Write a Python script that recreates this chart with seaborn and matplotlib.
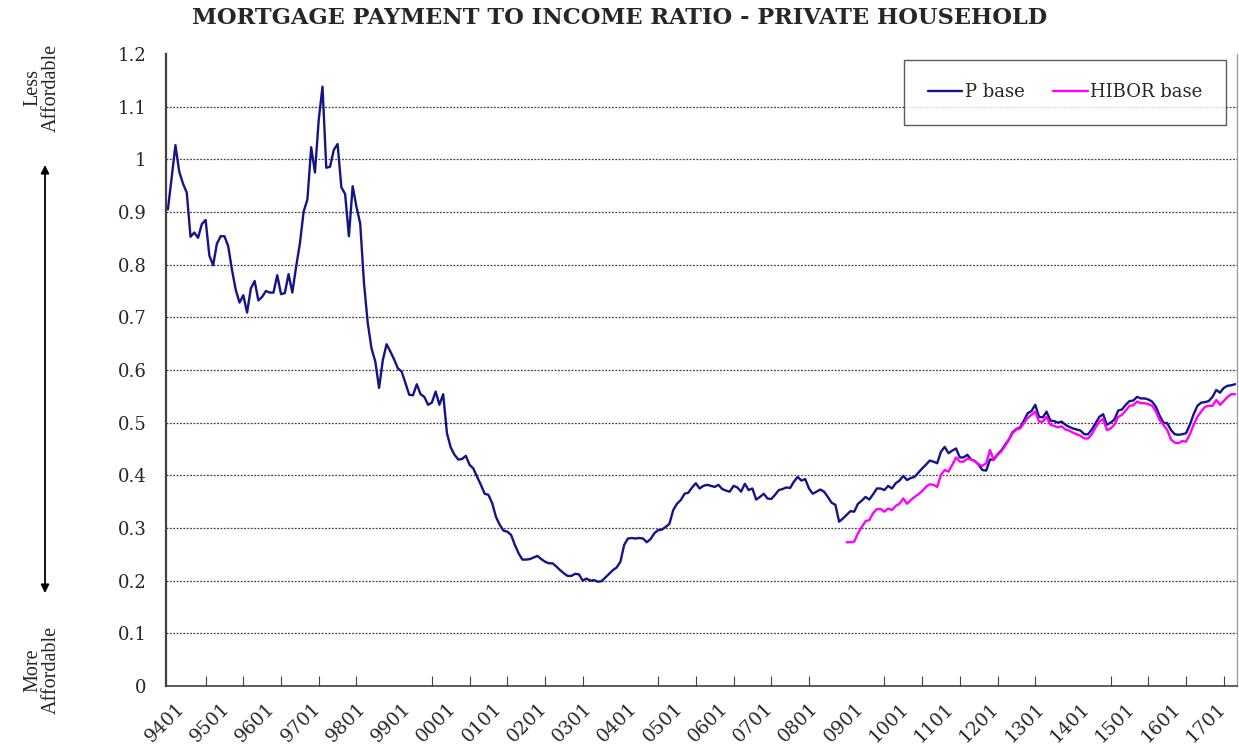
import numpy as np
import pandas as pd
import matplotlib
matplotlib.use("Agg")
import matplotlib.pyplot as plt
from matplotlib.transforms import ScaledTranslation
import seaborn as sns

# Year labels on the category axis (one per January, YYMM)
year_labels = ["9401", "9501", "9601", "9701", "9801", "9901", "0001", "0101",
               "0201", "0301", "0401", "0501", "0601", "0701", "0801", "0901",
               "1001", "1101", "1201", "1301", "1401", "1501", "1601", "1701"]

# Monthly mortgage payment to income ratio, prime-rate based (Jan 1994 - Aug 2017)
p_base = [
    0.905, 0.965, 1.027, 0.977, 0.954, 0.937, 0.853, 0.861, 0.851, 0.877, 0.885, 0.817,
    0.799, 0.840, 0.854, 0.854, 0.835, 0.790, 0.752, 0.728, 0.742, 0.709, 0.755, 0.769,
    0.732, 0.739, 0.750, 0.747, 0.747, 0.780, 0.744, 0.746, 0.782, 0.747, 0.796, 0.840,
    0.901, 0.924, 1.023, 0.975, 1.075, 1.138, 0.984, 0.986, 1.018, 1.029, 0.947, 0.934,
    0.854, 0.949, 0.910, 0.878, 0.765, 0.689, 0.641, 0.616, 0.566, 0.619, 0.649, 0.635,
    0.620, 0.603, 0.597, 0.575, 0.553, 0.552, 0.573, 0.554, 0.549, 0.534, 0.538, 0.559,
    0.534, 0.554, 0.480, 0.453, 0.439, 0.430, 0.431, 0.437, 0.420, 0.413, 0.397, 0.382,
    0.365, 0.363, 0.347, 0.321, 0.306, 0.295, 0.293, 0.287, 0.268, 0.252, 0.240, 0.240,
    0.241, 0.244, 0.247, 0.241, 0.236, 0.233, 0.233, 0.227, 0.220, 0.214, 0.209, 0.209,
    0.213, 0.212, 0.200, 0.204, 0.200, 0.201, 0.198, 0.199, 0.206, 0.213, 0.220, 0.225,
    0.236, 0.268, 0.280, 0.281, 0.280, 0.281, 0.280, 0.273, 0.279, 0.290, 0.296, 0.297,
    0.302, 0.308, 0.334, 0.346, 0.353, 0.365, 0.367, 0.377, 0.385, 0.375, 0.380, 0.382,
    0.380, 0.378, 0.382, 0.374, 0.371, 0.369, 0.380, 0.377, 0.369, 0.384, 0.372, 0.375,
    0.354, 0.359, 0.365, 0.356, 0.355, 0.363, 0.372, 0.374, 0.377, 0.376, 0.388, 0.397,
    0.390, 0.393, 0.375, 0.365, 0.369, 0.373, 0.369, 0.359, 0.348, 0.344, 0.312, 0.318,
    0.325, 0.332, 0.331, 0.346, 0.352, 0.359, 0.354, 0.364, 0.375, 0.375, 0.372, 0.380,
    0.375, 0.385, 0.390, 0.399, 0.391, 0.395, 0.397, 0.405, 0.413, 0.420, 0.428, 0.426,
    0.423, 0.445, 0.454, 0.442, 0.447, 0.451, 0.434, 0.434, 0.439, 0.430, 0.427, 0.420,
    0.410, 0.409, 0.430, 0.430, 0.440, 0.447, 0.458, 0.468, 0.482, 0.488, 0.491, 0.504,
    0.518, 0.522, 0.534, 0.511, 0.510, 0.521, 0.504, 0.503, 0.500, 0.502, 0.496, 0.492,
    0.489, 0.487, 0.485, 0.478, 0.478, 0.487, 0.499, 0.511, 0.516, 0.496, 0.500, 0.506,
    0.523, 0.525, 0.534, 0.541, 0.542, 0.549, 0.546, 0.546, 0.544, 0.540, 0.530, 0.513,
    0.500, 0.499, 0.486, 0.478, 0.477, 0.478, 0.480, 0.496, 0.516, 0.532, 0.538, 0.539,
    0.541, 0.549, 0.562, 0.557, 0.566, 0.570, 0.571, 0.573,
]

# HIBOR-based ratio, available from Jan 2009 (0901)
hibor_start = 180
hibor_base = [
    0.273, 0.273, 0.274, 0.290, 0.302, 0.313, 0.315, 0.328, 0.336, 0.336, 0.331, 0.337,
    0.334, 0.342, 0.346, 0.356, 0.346, 0.353, 0.359, 0.364, 0.370, 0.378, 0.383, 0.382,
    0.378, 0.401, 0.410, 0.407, 0.420, 0.434, 0.426, 0.426, 0.432, 0.430, 0.427, 0.421,
    0.418, 0.423, 0.448, 0.429, 0.439, 0.445, 0.456, 0.467, 0.480, 0.487, 0.489, 0.499,
    0.509, 0.515, 0.521, 0.502, 0.502, 0.511, 0.496, 0.494, 0.491, 0.493, 0.487, 0.485,
    0.481, 0.478, 0.475, 0.470, 0.470, 0.478, 0.491, 0.502, 0.507, 0.486, 0.489, 0.496,
    0.511, 0.515, 0.523, 0.532, 0.533, 0.540, 0.537, 0.537, 0.535, 0.532, 0.521, 0.505,
    0.496, 0.486, 0.468, 0.462, 0.461, 0.465, 0.464, 0.478, 0.496, 0.511, 0.521, 0.530,
    0.532, 0.532, 0.543, 0.534, 0.541, 0.549, 0.554, 0.554,
]

series_colors = {"P base": "#14148a", "HIBOR base": "#ff00ff"}

df = pd.concat([
    pd.DataFrame({"month": np.arange(len(p_base)), "ratio": p_base, "series": "P base"}),
    pd.DataFrame({"month": np.arange(hibor_start, hibor_start + len(hibor_base)),
                  "ratio": hibor_base, "series": "HIBOR base"}),
], ignore_index=True)

sns.set_theme(style="white")
plt.rcParams["font.family"] = ["DejaVu Serif"]

W, H = 1239, 745
fig = plt.figure(figsize=(W / 100, H / 100), dpi=100)
ax = fig.add_axes([166 / W, 1 - 686 / H, (1237 - 166) / W, (686 - 54) / H])

sns.lineplot(data=df, x="month", y="ratio", hue="series", palette=series_colors,
             linewidth=1.7, estimator=None, legend=False, ax=ax)

# value axis
ax.set_ylim(0, 1.2)
yt = np.round(np.arange(0, 1.21, 0.1), 1)
ax.set_yticks(yt)
ax.set_yticklabels([f"{v:g}" for v in yt], fontsize=13)
ax.tick_params(axis="y", length=0, pad=14)
ax.yaxis.grid(True, color="#444444", linestyle=(0, (1.5, 1.2)), linewidth=0.9)
ax.yaxis.get_gridlines()[-1].set_visible(False)
ax.yaxis.get_gridlines()[0].set_visible(False)

# category axis: a label each January, tick marks every ten months
n = len(p_base)
ax.set_xlim(-0.5, n - 0.5)
ax.set_xticks(np.arange(0, n, 12)[:len(year_labels)])
ax.set_xticklabels(year_labels, fontsize=13.5, rotation=45, ha="right", va="center",
                   rotation_mode="anchor")
ax.set_xticks(np.arange(0, n, 10), minor=True)
ax.tick_params(axis="x", which="major", length=0, pad=14)
ax.tick_params(axis="x", which="minor", direction="in", length=7, width=0.8,
               color="#444444", bottom=True)
shift = ScaledTranslation(14 / 100, 0, fig.dpi_scale_trans)
for lab in ax.get_xticklabels():
    lab.set_transform(lab.get_transform() + shift)
ax.set_xlabel("")
ax.set_ylabel("")

ax.spines["top"].set_visible(False)
ax.spines["left"].set_color("#404040")
ax.spines["left"].set_linewidth(1.6)
ax.spines["bottom"].set_color("#404040")
ax.spines["bottom"].set_linewidth(1.2)
ax.spines["right"].set_color("#999999")
ax.spines["right"].set_linewidth(0.9)

# legend
handles = [plt.Line2D([], [], color=series_colors[k], linewidth=1.7) for k in series_colors]
leg = ax.legend(handles, list(series_colors), ncol=2, loc="upper right",
                bbox_to_anchor=(1226 / W, 1 - 60 / H), bbox_transform=fig.transFigure,
                fontsize=13, frameon=True, fancybox=False, shadow=False,
                handlelength=1.9, handletextpad=0.15, columnspacing=1.6,
                borderpad=1.3, borderaxespad=0)
leg.get_frame().set_edgecolor("#333333")
leg.get_frame().set_linewidth(1.0)

# title
fig.text(0.5, 1 - 18 / H, "MORTGAGE PAYMENT TO INCOME RATIO - PRIVATE HOUSEHOLD",
         ha="center", va="center", fontsize=16.2, fontweight="bold")

# affordability guide on the left margin
side_font = dict(family=["Liberation Serif", "DejaVu Serif"], fontsize=14.5,
                 rotation=90, ha="center", va="center", multialignment="center",
                 linespacing=1.0)
fig.text(42 / W, 1 - 88 / H, "Less\nAffordable", **side_font)
fig.text(42 / W, 1 - 670 / H, "More\nAffordable", **side_font)
ax.annotate("", xy=(45, H - 165), xytext=(45, H - 593), xycoords="figure pixels",
            textcoords="figure pixels",
            arrowprops=dict(arrowstyle="<|-|>", color="black", lw=1.3,
                            mutation_scale=12, shrinkA=0, shrinkB=0))

fig.savefig("out.png", dpi=100)
